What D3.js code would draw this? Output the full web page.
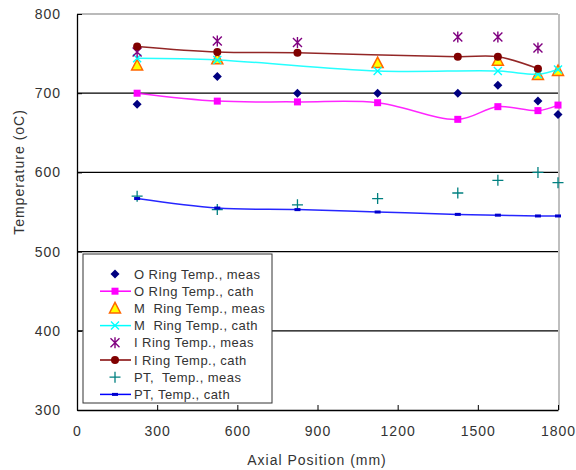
<!DOCTYPE html>
<html><head><meta charset="utf-8">
<script src="https://cdn.jsdelivr.net/npm/d3@7"></script>
<style>body{margin:0;background:#fff}svg{display:block}text{font-family:"Liberation Sans","DejaVu Sans",sans-serif;fill:#333}</style>
</head><body>
<svg id="c" width="576" height="470"></svg>
<script>
const xTicks = [0, 300, 600, 900, 1200, 1500, 1800];
const yTicks = [300, 400, 500, 600, 700, 800];
const oRingMeasX = [225, 525, 825, 1125, 1425, 1575, 1725, 1800];
const oRingMeas = [686, 721, 700, 700, 700, 710, 690, 673];
const oRingCathX = [225, 525, 825, 1125, 1425, 1575, 1725, 1800];
const oRingCath = [700, 690, 689, 688, 667, 683, 678, 685];
const mRingMeasX = [225, 525, 1125, 1575, 1725, 1800];
const mRingMeas = [735, 743, 738, 741, 723, 728];
const mRingCathX = [225, 525, 1125, 1575, 1725, 1800];
const mRingCath = [744, 742, 728, 728, 724, 730];
const iRingMeasX = [225, 525, 825, 1425, 1575, 1725];
const iRingMeas = [752, 766, 764, 771, 771, 757];
const iRingCathX = [225, 525, 825, 1425, 1575, 1725];
const iRingCath = [759, 752, 751, 746, 746, 731];
const ptMeasX = [225, 525, 825, 1125, 1425, 1575, 1725, 1800];
const ptMeas = [570, 553, 559, 567, 574, 590, 600, 587];
const ptCathX = [225, 525, 825, 1125, 1425, 1575, 1725, 1800];
const ptCath = [567, 555, 553, 550, 547, 546, 545, 545];
const seriesNames = ["O Ring Temp., meas","O RIng Temp., cath","M  Ring Temp., meas","M  Ring Temp., cath","I Ring Temp., meas","I Ring Temp., cath","PT,  Temp., meas","PT, Temp., cath"];

const svg = d3.select("#c");
const x = d3.scaleLinear().domain([0,1800]).range([77,558]);
const y = d3.scaleLinear().domain([300,800]).range([410,14]);

// gridlines
svg.append("g").selectAll("line").data(yTicks.slice(1)).join("line")
  .attr("x1",77).attr("x2",558).attr("y1",d=>y(d)).attr("y2",d=>y(d))
  .attr("stroke",d=>d===800?"#777":"#000").attr("stroke-width",1.2);
svg.append("line").attr("x1",559).attr("x2",559).attr("y1",y(800)).attr("y2",y(300)).attr("stroke","#aaa").attr("stroke-width",1.5);

// axes
const gx = svg.append("g").attr("transform",`translate(0,${y(300)})`)
  .call(d3.axisBottom(x).tickValues(xTicks).tickFormat(d3.format("d")).tickSizeInner(-5).tickSizeOuter(0).tickPadding(16));
const gy = svg.append("g").attr("transform",`translate(${x(0)},0)`)
  .call(d3.axisLeft(y).tickValues(yTicks).tickFormat(d3.format("d")).tickSizeInner(-5).tickSizeOuter(0).tickPadding(16));
[gx,gy].forEach(g=>{g.select(".domain").attr("stroke","#000").attr("stroke-width",1.3);
  g.selectAll(".tick line").attr("stroke","#000");
  g.selectAll(".tick text").attr("font-size",14).attr("letter-spacing",1).style("fill","#333").attr("font-family","Liberation Sans, DejaVu Sans, sans-serif");});
svg.append("text").attr("x",317).attr("y",465).attr("text-anchor","middle").attr("font-size",14).attr("letter-spacing",1).text("Axial Position (mm)");
svg.append("text").attr("transform","translate(24,172) rotate(-90)").attr("text-anchor","middle").attr("font-size",14).attr("letter-spacing",1).text("Temperature (oC)");

// markers
function marker(g, type, cx, cy){
  if(type==="diamond") g.append("path").attr("d",`M${cx},${cy-4.5}L${cx+4.5},${cy}L${cx},${cy+4.5}L${cx-4.5},${cy}Z`).attr("fill","#000080");
  else if(type==="square") g.append("rect").attr("x",cx-3.5).attr("y",cy-3.5).attr("width",7).attr("height",7).attr("fill","#ff00ff");
  else if(type==="triangle") g.append("path").attr("d",`M${cx},${cy-6}L${cx+5.5},${cy+4.5}L${cx-5.5},${cy+4.5}Z`).attr("fill","#ffff00").attr("stroke","#ff6600").attr("stroke-width",1.5);
  else if(type==="x") g.append("path").attr("d",`M${cx-4},${cy-4}L${cx+4},${cy+4}M${cx-4},${cy+4}L${cx+4},${cy-4}`).attr("stroke","#00ffff").attr("stroke-width",1.4);
  else if(type==="star") g.append("path").attr("d",`M${cx-4.5},${cy-4.5}L${cx+4.5},${cy+4.5}M${cx-4.5},${cy+4.5}L${cx+4.5},${cy-4.5}M${cx},${cy-5.5}L${cx},${cy+5.5}`).attr("stroke","#800080").attr("stroke-width",1.4);
  else if(type==="circle") g.append("circle").attr("cx",cx).attr("cy",cy).attr("r",4).attr("fill","#800000");
  else if(type==="plus") g.append("path").attr("d",`M${cx-5.5},${cy}L${cx+5.5},${cy}M${cx},${cy-5.5}L${cx},${cy+5.5}`).attr("stroke","#008080").attr("stroke-width",1.3);
  else if(type==="dash") g.append("rect").attr("x",cx-3).attr("y",cy-1.5).attr("width",6).attr("height",3).attr("fill","#0000cc");
}
const series = [
  {xs:oRingMeasX, ys:oRingMeas, m:"diamond", line:null},
  {xs:oRingCathX, ys:oRingCath, m:"square", line:"#ff00ff"},
  {xs:mRingMeasX, ys:mRingMeas, m:"triangle", line:null},
  {xs:mRingCathX, ys:mRingCath, m:"x", line:"#00ffff"},
  {xs:iRingMeasX, ys:iRingMeas, m:"star", line:null},
  {xs:iRingCathX, ys:iRingCath, m:"circle", line:"#800000"},
  {xs:ptMeasX, ys:ptMeas, m:"plus", line:null},
  {xs:ptCathX, ys:ptCath, m:"dash", line:"#0000ff"}
];
const lineGen = d3.line().x(d=>x(d[0])).y(d=>y(d[1])).curve(d3.curveCatmullRom.alpha(0.5));
series.forEach(s=>{
  const g = svg.append("g");
  const pts = s.xs.map((v,i)=>[v,s.ys[i]]);
  if(s.line) g.append("path").attr("d",lineGen(pts)).attr("fill","none").attr("stroke",s.line).attr("stroke-width",1.5).attr("stroke-opacity",0.85);
  pts.forEach(p=>marker(g,s.m,x(p[0]),y(p[1])));
});

// legend
const lg = svg.append("g");
lg.append("rect").attr("x",83).attr("y",254).attr("width",189).attr("height",149).attr("fill","#fff").attr("stroke","#333").attr("stroke-width",1);
series.forEach((s,i)=>{
  const cy = 274 + i*17.2;
  const g = lg.append("g");
  if(s.line) g.append("line").attr("x1",100).attr("x2",131).attr("y1",cy).attr("y2",cy).attr("stroke",s.line).attr("stroke-width",1.5);
  marker(g,s.m,115,cy);
  g.append("text").attr("x",134).attr("y",cy+4.5).attr("font-size",13).attr("letter-spacing",0.45).style("white-space","pre").text(seriesNames[i]);
});
</script>
</body></html>
